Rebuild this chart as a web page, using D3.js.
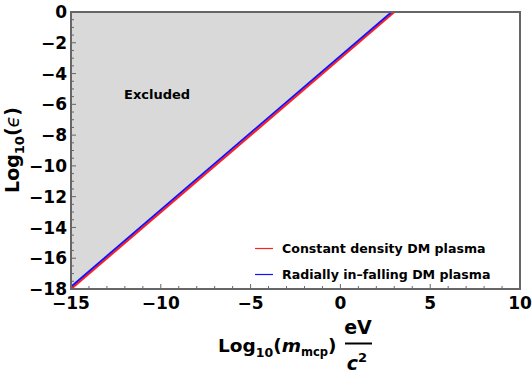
<!DOCTYPE html>
<html><head><meta charset="utf-8">
<script src="https://cdn.jsdelivr.net/npm/d3@7"></script>
<style>body{margin:0;background:#fff}svg{display:block;font-family:"DejaVu Sans",sans-serif}</style>
</head><body><svg id="c" width="532" height="375"></svg>
<script>
const xDomain = [-15, 10];
const yDomain = [-18, 0];
const xTicks = [-15, -10, -5, 0, 5, 10];
const yTicks = [0, -2, -4, -6, -8, -10, -12, -14, -16, -18];
const redMass = [-15, 3];
const redEps = [-18, 0];
const blueMass = [-15.15, 2.85];
const blueEps = [-18, 0];
const seriesNames = ["Constant density DM plasma", "Radially in\u2013falling DM plasma"];
const seriesColors = ["#ff2020", "#1010ff"];

const svg = d3.select("#c");
const L = 71, R = 520, T = 12, B = 289;
const x = d3.scaleLinear().domain(xDomain).range([L, R]);
const y = d3.scaleLinear().domain(yDomain).range([B, T]);

svg.append("defs").append("clipPath").attr("id", "clip")
  .append("rect").attr("x", L).attr("y", T).attr("width", R - L).attr("height", B - T);
const g = svg.append("g").attr("clip-path", "url(#clip)");

// excluded region above the blue line
const poly = [[xDomain[0] - 1, blueEps[0]], [blueMass[0], blueEps[0]], [blueMass[1], blueEps[1]], [xDomain[0] - 1, yDomain[1] + 1]];
g.append("path").attr("d", d3.line().x(d => x(d[0])).y(d => y(d[1]))(poly) + "Z")
  .attr("fill", "#d9d9d9");

const line = d3.line().x(d => x(d[0])).y(d => y(d[1]));
g.append("path").attr("d", line(redMass.map((m, i) => [m, redEps[i]])))
  .attr("stroke", seriesColors[0]).attr("stroke-width", 2.2).attr("fill", "none");
g.append("path").attr("d", line(blueMass.map((m, i) => [m, blueEps[i]])))
  .attr("stroke", seriesColors[1]).attr("stroke-width", 1.8).attr("fill", "none");

// ticks (inward)
const tg = svg.append("g").attr("stroke", "#666");
d3.range(-18, 0.01, 0.5).forEach(v => {
  const major = Math.abs(v % 2) < 1e-9;
  tg.append("line").attr("x1", L).attr("x2", L + (major ? 5 : 3)).attr("y1", y(v)).attr("y2", y(v)).attr("stroke-width", 1);
});
d3.range(-15, 10.01, 1).forEach(v => {
  const major = Math.abs(v % 5) < 1e-9;
  tg.append("line").attr("y1", B).attr("y2", B - (major ? 5 : 3)).attr("x1", x(v)).attr("x2", x(v)).attr("stroke-width", 1);
});

// frame
svg.append("rect").attr("x", L).attr("y", T).attr("width", R - L).attr("height", B - T)
  .attr("fill", "none").attr("stroke", "#666").attr("stroke-width", 2);

const fmt = v => (v < 0 ? "\u2212" + Math.abs(v) : String(v));
svg.append("g").selectAll("text").data(yTicks).join("text")
  .attr("x", L - 4).attr("y", d => y(d)).attr("dy", "0.36em")
  .attr("text-anchor", "end").attr("font-size", 17).attr("font-weight", "bold").text(fmt);
svg.append("g").selectAll("text").data(xTicks).join("text")
  .attr("x", d => x(d)).attr("y", B + 20)
  .attr("text-anchor", "middle").attr("font-size", 17).attr("font-weight", "bold").text(fmt);

svg.append("text").attr("x", 124).attr("y", 99).attr("font-size", 13).attr("font-weight", "bold").text("Excluded");

// legend
seriesNames.forEach((n, i) => {
  const yy = 248.5 + i * 26;
  svg.append("line").attr("x1", 255).attr("x2", 273).attr("y1", yy).attr("y2", yy)
    .attr("stroke", seriesColors[i]).attr("stroke-width", 1.2);
  svg.append("text").attr("x", 282).attr("y", yy + 4.5).attr("font-size", 12.6).attr("font-weight", "bold").text(n);
});

// y label
const yl = svg.append("text").attr("transform", "translate(19,150) rotate(-90)")
  .attr("text-anchor", "middle").attr("font-size", 19).attr("font-weight", "bold");
yl.append("tspan").text("Log");
yl.append("tspan").attr("font-size", 13).attr("dy", 5).text("10");
yl.append("tspan").attr("dy", -5).text("(");
yl.append("tspan").attr("font-style", "italic").attr("font-weight", "normal").text("\u03f5");
yl.append("tspan").text(")");

// x label
const xl = svg.append("text").attr("x", 218).attr("y", 352).attr("font-size", 18.5).attr("font-weight", "bold");
xl.append("tspan").text("Log");
xl.append("tspan").attr("font-size", 12.5).attr("dy", 5).text("10");
xl.append("tspan").attr("dy", -5).text("(");
xl.append("tspan").attr("font-style", "italic").text("m");
xl.append("tspan").attr("font-size", 11.5).attr("dy", 4).text("mcp");
xl.append("tspan").attr("dy", -4).text(")");
svg.append("text").attr("x", 358).attr("y", 334).attr("text-anchor", "middle").attr("font-size", 19).attr("font-weight", "bold").text("eV");
svg.append("line").attr("x1", 345).attr("x2", 372).attr("y1", 343.5).attr("y2", 343.5).attr("stroke", "#000").attr("stroke-width", 2);
const cl = svg.append("text").attr("x", 357).attr("y", 370).attr("text-anchor", "middle").attr("font-size", 19).attr("font-weight", "bold");
cl.append("tspan").attr("font-style", "italic").text("c");
cl.append("tspan").attr("font-size", 13).attr("dy", -8).text("2");
</script></body></html>
